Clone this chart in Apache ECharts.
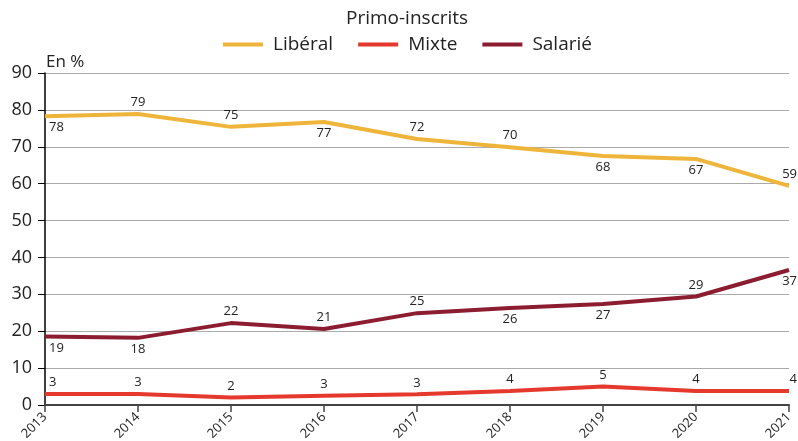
<!DOCTYPE html>
<html><head><meta charset="utf-8">
<script src="https://cdn.jsdelivr.net/npm/echarts@6/dist/echarts.min.js"></script>
<style>html,body{margin:0;padding:0;background:#fff}#c{width:798px;height:441px}</style>
</head><body><div id="c"></div>
<script>
const years = ['2013','2014','2015','2016','2017','2018','2019','2020','2021'];
const liberal = [78.3, 78.9, 75.4, 76.7, 72.1, 69.9, 67.5, 66.7, 59.4];
const mixte   = [3.0, 3.0, 2.0, 2.5, 2.9, 3.8, 5.0, 3.8, 3.8];
const salarie = [18.6, 18.2, 22.2, 20.6, 24.9, 26.3, 27.4, 29.4, 36.6];
const liberalPos = ['bottom','top','top','bottom','top','top','bottom','bottom','top'];
const mixtePos   = ['top','top','top','top','top','top','top','top','top'];
const salariePos = ['bottom','bottom','top','top','top','bottom','bottom','top','bottom'];

const FONT = '"Open Sans", "Noto Sans", sans-serif';
function mk(name, vals, pos, color){
  return {
    name, type:'line',
    data: vals.map((v,i)=>{
      const lab = {position:pos[i]};
      if (i===0) { lab.align='left'; lab.padding=[0,0,0,4]; }
      if (i===vals.length-1) { lab.align='right'; lab.padding=[0,-8,0,0]; }
      return {value:v, label:lab};
    }),
    symbol:'circle', symbolSize:0, showSymbol:true,
    lineStyle:{color, width:4}, itemStyle:{color},
    label:{show:true, fontSize:13, color:'#222', fontFamily:FONT, distance:5,
      formatter:p=>Math.round(p.value)},
    labelLayout:{hideOverlap:false}
  };
}
const chart = echarts.init(document.getElementById('c'), null, {renderer:'canvas'});
chart.setOption({
  animation:false,
  title:{text:'Primo-inscrits', left:341, top:4, textStyle:{fontSize:19, fontWeight:'normal', color:'#222', fontFamily:FONT}},
  legend:{top:30, left:218, itemWidth:40, itemHeight:4, itemGap:25, icon:'rect',
    textStyle:{fontSize:19, color:'#222', fontFamily:FONT, padding:[0,0,0,5]},
    data:['Libéral','Mixte','Salarié']},
  grid:{left:45, right:9, top:73, bottom:36, containLabel:false, outerBoundsMode:'none'},
  xAxis:{type:'category', data:years, boundaryGap:false,
    axisLine:{lineStyle:{color:'#444', width:2}},
    axisTick:{show:true, length:7, lineStyle:{color:'#444', width:1.5}},
    axisLabel:{rotate:45, fontSize:13, color:'#222', fontFamily:FONT, margin:10, interval:0}},
  yAxis:{type:'value', min:0, max:90, interval:10, name:'En %', nameLocation:'end',
    nameTextStyle:{fontSize:17, color:'#222', fontFamily:FONT, align:'left', padding:[0,0,0,1]}, nameGap:2,
    axisLine:{show:true, lineStyle:{color:'#000', width:1.5}},
    axisTick:{show:true, length:7, lineStyle:{color:'#000'}},
    axisLabel:{fontSize:18, color:'#222', fontFamily:FONT, margin:13},
    splitLine:{lineStyle:{color:'#aaa', width:1}}},
  series:[
    mk('Libéral', liberal, liberalPos, '#EEB53A'),
    mk('Mixte', mixte, mixtePos, '#E5392D'),
    mk('Salarié', salarie, salariePos, '#8C1D30')
  ]
});
</script></body></html>
